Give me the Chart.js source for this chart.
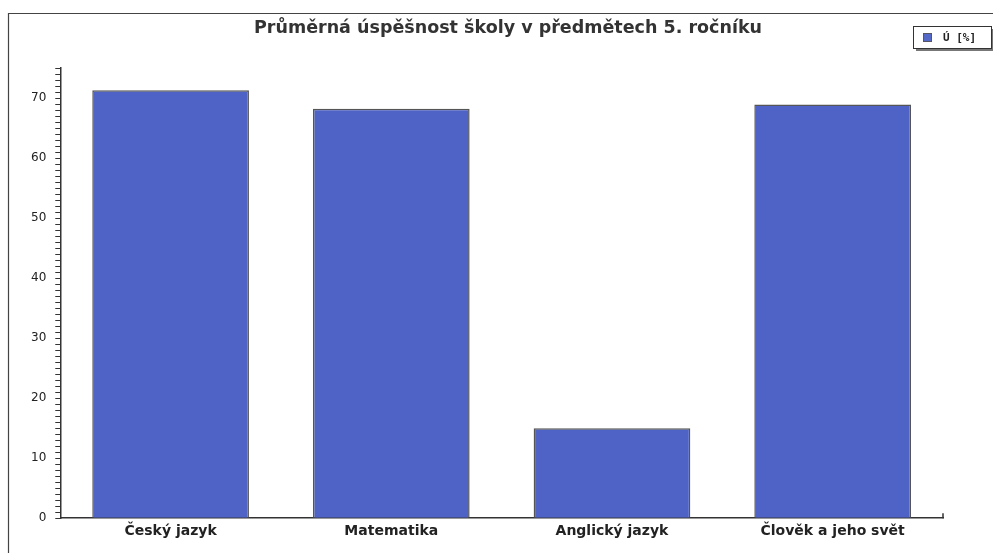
<!DOCTYPE html>
<html>
<head>
<meta charset="utf-8">
<script src="https://cdn.jsdelivr.net/npm/chart.js@4/dist/chart.umd.min.js"></script>
<style>
html,body{margin:0;padding:0;background:#fff;}
#wrap{width:993px;height:553px;position:relative;}
</style>
</head>
<body>
<div id="wrap"><canvas id="c" width="993" height="553"></canvas></div>
<script>
const categories = ["Český jazyk", "Matematika", "Anglický jazyk", "Člověk a jeho svět"];
const seriesName = "Ú [%]";
const values = [71.3, 68.2, 15.0, 68.9];
const chartTitle = "Průměrná úspěšnost školy v předmětech 5. ročníku";
const yMin = 0, yMax = 75, yLabelStep = 10;

const decor = {
  id: 'decor',
  beforeDraw(chart) {
    const ctx = chart.ctx;
    ctx.save();
    ctx.fillStyle = '#fff';
    ctx.fillRect(0, 0, chart.width, chart.height);
    ctx.strokeStyle = '#444';
    ctx.lineWidth = 1.2;
    ctx.beginPath();
    ctx.moveTo(8.5, chart.height);
    ctx.lineTo(8.5, 13.5);
    ctx.lineTo(chart.width, 13.5);
    ctx.stroke();
    ctx.restore();
  },
  afterDraw(chart) {
    const ctx = chart.ctx;
    const a = chart.chartArea;
    ctx.save();
    // title
    ctx.fillStyle = '#333';
    ctx.font = 'bold 17.5px "DejaVu Sans", Verdana, sans-serif';
    ctx.textAlign = 'center';
    ctx.textBaseline = 'middle';
    ctx.fillText(chartTitle, 508, 28);
    ctx.textAlign = 'left';
    // small right stub at end of x axis
    ctx.strokeStyle = '#333';
    ctx.lineWidth = 1.5;
    ctx.beginPath();
    ctx.moveTo(a.right, a.bottom);
    ctx.lineTo(a.right, a.bottom - 5);
    ctx.stroke();
    // legend box
    const x = 913, y = 26, w = 78, h = 22;
    ctx.fillStyle = '#777';
    ctx.fillRect(x + 3, y + 3, w, h);
    ctx.fillStyle = '#fff';
    ctx.fillRect(x, y, w, h);
    ctx.strokeStyle = '#333';
    ctx.lineWidth = 1;
    ctx.strokeRect(x + 0.5, y + 0.5, w, h);
    ctx.fillStyle = '#5468c8';
    ctx.fillRect(x + 10, y + 7, 9, 9);
    ctx.strokeStyle = '#556';
    ctx.strokeRect(x + 10.5, y + 7.5, 8, 8);
    ctx.fillStyle = '#222';
    ctx.font = 'bold 11px "DejaVu Sans Mono", monospace';
    ctx.textBaseline = 'middle';
    ctx.fillText(seriesName, x + 30, y + 12);
    ctx.restore();
  }
};

new Chart(document.getElementById('c'), {
  type: 'bar',
  data: {
    labels: categories,
    datasets: [{
      label: seriesName,
      data: values,
      backgroundColor: '#4f63c6',
      borderColor: '#555',
      borderWidth: 1.5,
      barPercentage: 0.71,
      categoryPercentage: 1.0
    }]
  },
  options: {
    responsive: false,
    animation: false,
    layout: { padding: { left: 22, right: 50, top: 68, bottom: 8 } },
    plugins: {
      legend: { display: false },
      tooltip: { enabled: false },
      title: { display: false }
    },
    scales: {
      x: {
        grid: { display: false, drawTicks: false },
        border: { display: true, color: '#333', width: 1.5 },
        ticks: {
          color: '#222',
          padding: 5,
          font: { family: '"DejaVu Sans", Verdana, sans-serif', size: 14, weight: 'bold' }
        }
      },
      y: {
        min: yMin,
        max: yMax,
        grid: { drawOnChartArea: false, drawTicks: true, tickLength: 5, color: '#333', tickWidth: 1 },
        border: { display: true, color: '#333', width: 1.5 },
        ticks: {
          stepSize: 1,
          autoSkip: false,
          color: '#222',
          padding: 9,
          font: { family: '"DejaVu Sans", Verdana, sans-serif', size: 12 },
          callback: (v) => (v % yLabelStep === 0 ? String(v) : '')
        }
      }
    }
  },
  plugins: [decor]
});
</script>
</body>
</html>
